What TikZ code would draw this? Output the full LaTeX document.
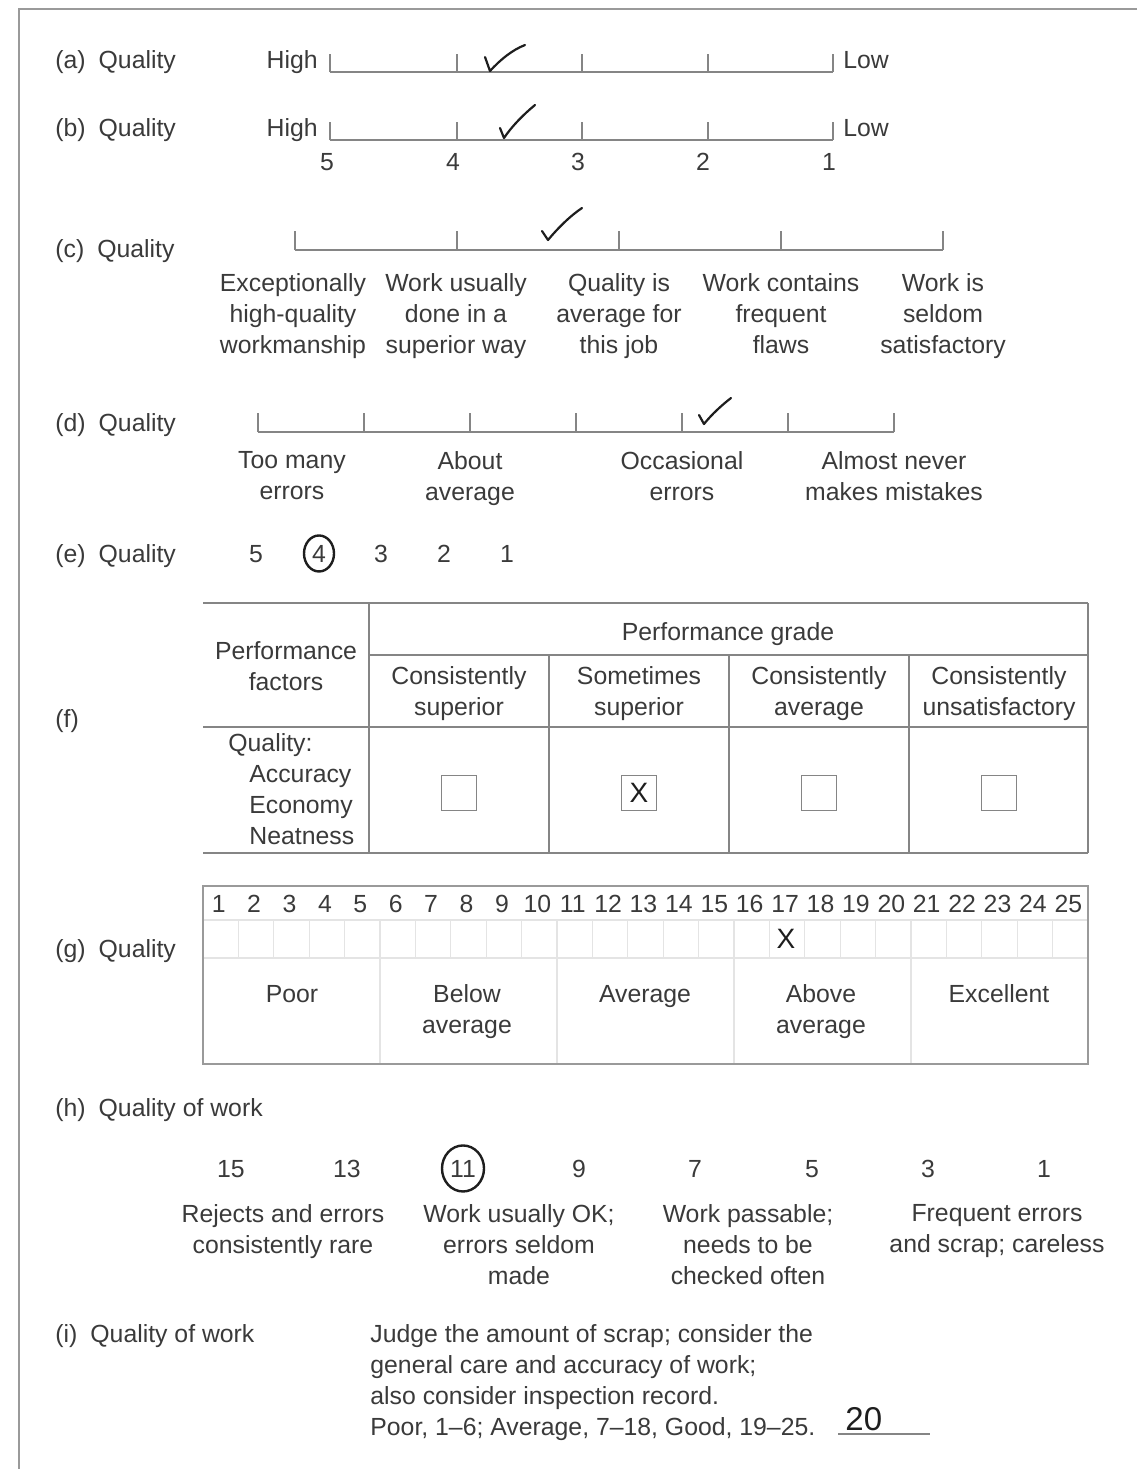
\documentclass[tikz,border=0pt]{standalone}
\usepackage{fontspec}
\setmainfont{Liberation Sans}
\newcommand\myfs{\fontsize{12.4}{15.5}\selectfont}
\definecolor{txtc}{HTML}{3A3A3A}
\definecolor{linec}{HTML}{858585}
\definecolor{framec}{HTML}{9A9A9A}
\definecolor{faintc}{HTML}{E4E4E4}
\definecolor{inkc}{HTML}{1E1E1E}
\begin{document}
\begin{tikzpicture}[x=0.5pt,y=-0.5pt,
  txt/.style={font=\myfs,text=txtc,inner sep=0pt},
  lbl/.style={txt,anchor=base west},
  ctr/.style={txt,anchor=base},
  mtxt/.style={txt,align=center,anchor=north},
  xmark/.style={inner sep=0pt,anchor=center,text=inkc,font=\fontsize{14}{16}\selectfont},
  scaleline/.style={draw=linec,line width=1pt},
  gridline/.style={draw=linec,line width=0.9pt},
  faint/.style={draw=faintc,line width=0.6pt},
  chk/.style={draw=inkc,line width=1.1pt,line cap=round,line join=round},
  ring/.style={draw=inkc,line width=1.2pt}]
\useasboundingbox (0,0) rectangle (1137,1469);
% frame
\coordinate (fTL) at (19,9); \coordinate (fTR) at (1137,9); \coordinate (fBL) at (19,1469);
\draw[framec,line width=1.3pt] (fTR) -- (fTL) -- (fBL);

% (a)
\node[lbl] (la) at (55,68) {(a)\hspace{6.5pt}Quality};
\node[txt,anchor=base east] (higha) at (318,68) {High};
\node[lbl] (lowa) at (843,68) {Low};
\coordinate (a0) at (330,72); \coordinate (a4) at (833,72);
\draw[scaleline] (a0) -- (a4);
\foreach \x in {330,457,582,708,833} \draw[scaleline] (\x,72) -- (\x,54);
\draw[chk] (485,57) -- (490,71) .. controls (500,60) and (512,50) .. (525,45);

% (b)
\node[lbl] (lb) at (55,136) {(b)\hspace{6.5pt}Quality};
\node[txt,anchor=base east] (highb) at (318,136) {High};
\node[lbl] (lowb) at (843,136) {Low};
\coordinate (b0) at (330,140); \coordinate (b4) at (833,140);
\draw[scaleline] (b0) -- (b4);
\foreach \x in {330,457,582,708,833} \draw[scaleline] (\x,140) -- (\x,122);
\draw[chk] (500,128) -- (504,138) .. controls (512,126) and (524,114) .. (535,105);
\foreach \x/\n in {327/5,453/4,578/3,703/2,829/1}
  \node[ctr] (bn\n) at (\x,170) {\n};

% (c)
\node[lbl] (lc) at (55,257) {(c)\hspace{6.5pt}Quality};
\coordinate (c0) at (295,250); \coordinate (c4) at (943,250);
\draw[scaleline] (c0) -- (c4);
\foreach \x in {295,457,619,781,943} \draw[scaleline] (\x,250) -- (\x,231);
\draw[chk] (542,231) -- (548,240) .. controls (558,228) and (570,216) .. (582,208);
\node[mtxt] (c1) at (293,273) {Exceptionally\\high-quality\\workmanship};
\node[mtxt] (c2) at (456,273) {Work usually\\done in a\\superior way};
\node[mtxt] (c3) at (619,273) {Quality is\\average for\\this job};
\node[mtxt] (c4t) at (781,273) {Work contains\\frequent\\flaws};
\node[mtxt] (c5) at (943,273) {Work is\\seldom\\satisfactory};

% (d)
\node[lbl] (ld) at (55,431) {(d)\hspace{6.5pt}Quality};
\coordinate (d0) at (258,432); \coordinate (d6) at (894,432);
\draw[scaleline] (d0) -- (d6);
\foreach \x in {258,364,470,576,682,788,894} \draw[scaleline] (\x,432) -- (\x,413);
\draw[chk] (699,415) -- (704,424) .. controls (712,414) and (722,405) .. (731,398);
\node[mtxt] (d1) at (292,451) {Too many\\errors};
\node[mtxt] (d2) at (470,451) {About\\average};
\node[mtxt] (d3) at (682,451) {Occasional\\errors};
\node[mtxt] (d4) at (894,451) {Almost never\\makes mistakes};

% (e)
\node[lbl] (le) at (55,562) {(e)\hspace{6.5pt}Quality};
\foreach \x/\n in {256/5,319/4,381/3,444/2,507/1}
  \node[ctr] (en\n) at (\x,562) {\n};
\draw[ring] (en4.center) ellipse [x radius=15, y radius=18];

% (f) table
\node[lbl] (lf) at (55,727) {(f)};
\coordinate (t0) at (203,603); \coordinate (t1) at (369,603); \coordinate (t5) at (1088,603);
\draw[gridline] (203,603) -- (1088,603);
\draw[gridline] (369,655) -- (1088,655);
\draw[gridline] (203,727) -- (1088,727);
\draw[gridline] (203,853) -- (1088,853);
\draw[gridline] (369,603) -- (369,853);
\draw[gridline] (1088,603) -- (1088,853);
\foreach \x in {549,729,909} \draw[gridline] (\x,655) -- (\x,853);
\node[ctr] (pg) at (728,640) {Performance grade};
\node[mtxt] (pf) at (286,641) {Performance\\factors};
\node[mtxt] (h1) at (459,666) {Consistently\\superior};
\node[mtxt] (h2) at (639,666) {Sometimes\\superior};
\node[mtxt] (h3) at (819,666) {Consistently\\average};
\node[mtxt] (h4) at (999,666) {Consistently\\unsatisfactory};
\node[txt,align=left,anchor=north west] (qf) at (228,733)
  {Quality:\\\hspace*{10.5pt}Accuracy\\\hspace*{10.5pt}Economy\\\hspace*{10.5pt}Neatness};
\foreach \x/\n in {459/1,639/2,819/3,999/4}
  \node[draw=linec,line width=0.8pt,minimum width=17.5pt,minimum height=17.5pt,inner sep=0pt] (box\n) at (\x,793) {};
\node[xmark] (bx) at (box2.center) {X};

% (g)
\node[lbl] (lg) at (55,957) {(g)\hspace{6.5pt}Quality};
\foreach \i in {1,...,24} {
  \pgfmathsetmacro\gx{203+35.4*\i}
  \draw[faint] (\gx,920) -- (\gx,958);
}
\foreach \i in {5,10,15,20} {
  \pgfmathsetmacro\gx{203+35.4*\i}
  \draw[faint] (\gx,958) -- (\gx,1064);
}
\draw[faint] (203,920) -- (1088,920);
\draw[faint] (203,958) -- (1088,958);
\draw[gridline,draw=framec] (203,886) rectangle (1088,1064);
\foreach \i in {1,...,25} {
  \pgfmathsetmacro\gx{201+35.4*(\i-0.5)}
  \node[ctr] (gn\i) at (\gx,912) {\i};
}
\node[xmark] (gx) at (786,939) {X};
\node[ctr] (g1) at (292,1002) {Poor};
\node[mtxt] (g2) at (467,984) {Below\\average};
\node[ctr] (g3) at (645,1002) {Average};
\node[mtxt] (g4) at (821,984) {Above\\average};
\node[ctr] (g5) at (999,1002) {Excellent};

% (h)
\node[lbl] (lh) at (55,1116) {(h)\hspace{6.5pt}Quality of work};
\foreach \x/\n in {231/15,347/13,463/11,579/9,695/7,812/5,928/3,1044/1}
  \node[ctr] (hn\n) at (\x,1177) {\n};
\draw[ring] (hn11.center) ellipse [x radius=21, y radius=23];
\node[mtxt] (hl1) at (283,1204) {Rejects and errors\\consistently rare};
\node[mtxt] (hl2) at (519,1204) {Work usually OK;\\errors seldom\\made};
\node[mtxt] (hl3) at (748,1204) {Work passable;\\needs to be\\checked often};
\node[mtxt] (hl4) at (997,1204) {Frequent errors\\and scrap; careless};

% (i)
\node[lbl] (li) at (55,1342) {(i)\hspace{6.5pt}Quality of work};
\node[txt,align=left,anchor=north west] (ip) at (370,1324)
  {Judge the amount of scrap; consider the\\general care and accuracy of work;\\also consider inspection record.\\Poor, 1–6; Average, 7–18, Good, 19–25.};
\node[txt,anchor=base west,font=\fontsize{16.5}{18}\selectfont,text=inkc] (iv) at (845,1430) {20};
\coordinate (u0) at (838,1434); \coordinate (u1) at (930,1434);
\draw[scaleline] (u0) -- (u1);
\end{tikzpicture}
\end{document}
